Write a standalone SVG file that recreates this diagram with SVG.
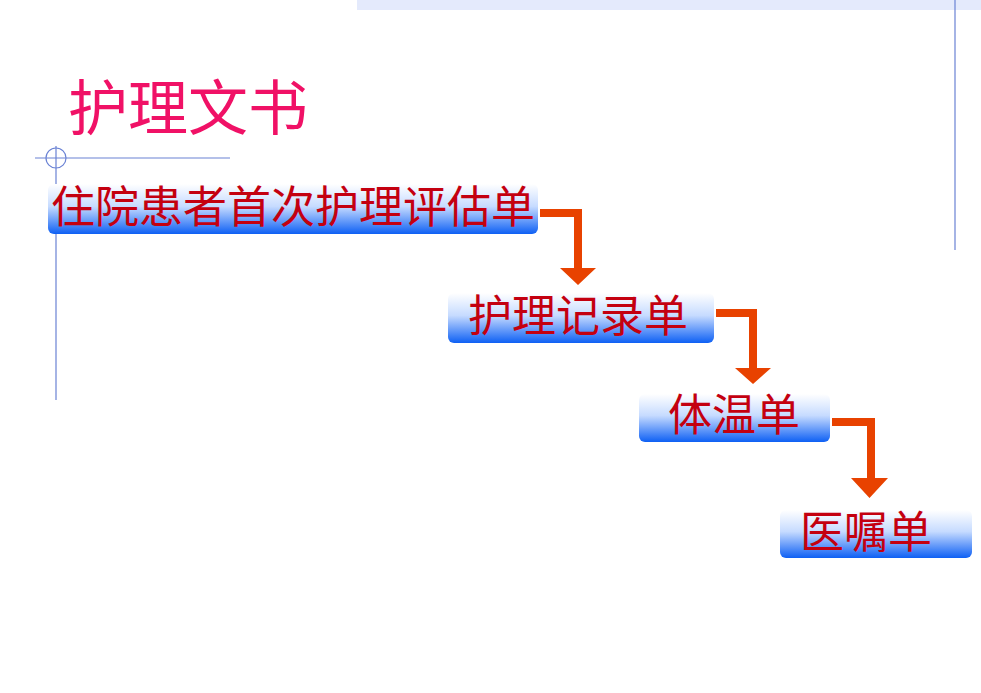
<svg xmlns="http://www.w3.org/2000/svg" width="981" height="693" viewBox="0 0 981 693">
<style>
.deco{stroke:#6a82d4;stroke-width:1.2;fill:none}
.box{fill:url(#g)}
.lbl{font-family:"Noto Sans CJK SC","Noto Sans CJK TC",sans-serif;font-size:44px;fill:#c40010}
.title{font-family:"Noto Sans CJK SC",sans-serif;font-size:60px;fill:#f01166}
.conn{fill:#e84200}
</style>
<defs>
<linearGradient id="g" x1="0" y1="0" x2="0" y2="1">
<stop offset="0" stop-color="#ffffff"/>
<stop offset="0.45" stop-color="#c6dbff"/>
<stop offset="1" stop-color="#0e60f4"/>
</linearGradient>
</defs>
<rect width="981" height="693" fill="#ffffff"/>
<g id="decoration">
<rect x="357" y="0" width="624" height="10" fill="#e4eafc"/>
<line class="deco" x1="955" y1="0" x2="955" y2="250"/>
<line class="deco" x1="35" y1="158" x2="230" y2="158"/>
<circle class="deco" cx="56" cy="158" r="10"/>
<line class="deco" x1="56" y1="146" x2="56" y2="400"/>
</g>
<g id="title"><text class="title" x="68" y="130">护理文书</text></g>
<g id="connectors">
<path class="conn" d="M540,209 H582 V268 H596 L578,285 L560,268 H574 V217 H540 Z"/>
<path class="conn" d="M716,309 H757 V368 H771 L753,384 L735,368 H749 V317 H716 Z"/>
<path class="conn" d="M832,418 H875 V478 H888 L869.5,498 L851,478 H867 V426 H832 Z"/>
</g>
<g id="n1"><rect class="box" x="48" y="184" width="490" height="50" rx="6"/><text class="lbl" x="51" y="223">住院患者首次护理评估单</text></g>
<g id="n2"><rect class="box" x="448" y="293" width="266" height="50" rx="6"/><text class="lbl" x="468" y="332">护理记录单</text></g>
<g id="n3"><rect class="box" x="639" y="394" width="191" height="48" rx="6"/><text class="lbl" x="668" y="431">体温单</text></g>
<g id="n4"><rect class="box" x="780" y="510" width="192" height="48" rx="6"/><text class="lbl" x="800" y="548">医嘱单</text></g>
</svg>
